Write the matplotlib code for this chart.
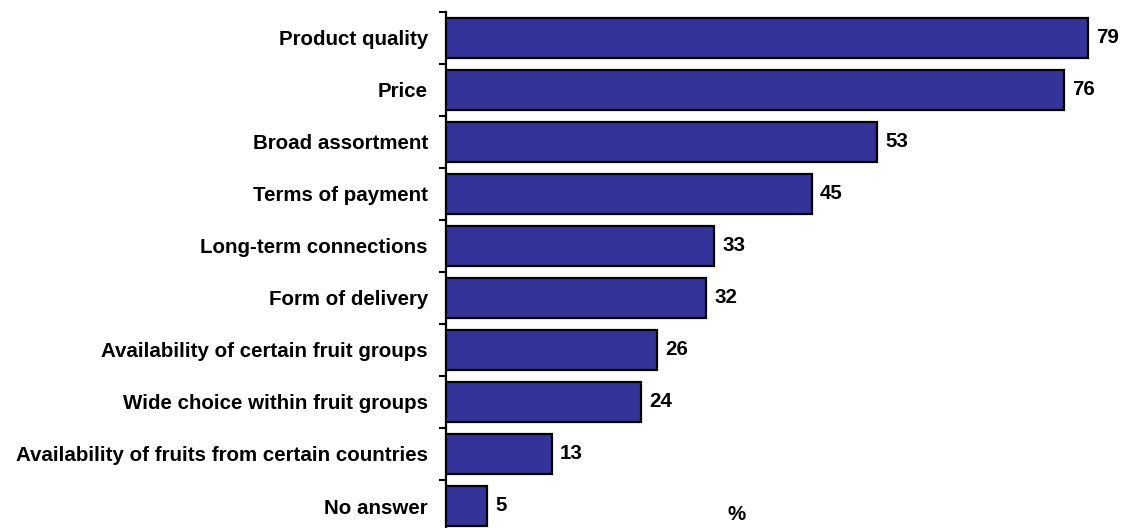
import matplotlib
matplotlib.use("Agg")
import matplotlib.pyplot as plt
import numpy as np

categories = ["Product quality", "Price", "Broad assortment", "Terms of payment",
              "Long-term connections", "Form of delivery",
              "Availability of certain fruit groups", "Wide choice within fruit groups",
              "Availability of fruits from certain countries", "No answer"]
values = [79, 76, 53, 45, 33, 32, 26, 24, 13, 5]

plt.rcParams['font.family'] = ['Liberation Sans', 'DejaVu Sans']

W, H = 1123, 528
fig = plt.figure(figsize=(W / 100, H / 100), dpi=100)
x0, ytop, ybot = 446, 12, 532
ax = fig.add_axes([x0 / W, (H - ybot) / H, (W - x0) / W, (ybot - ytop) / H])

n = len(categories)
pos = np.arange(n)
ax.barh(pos, values, height=0.78, color="#333399", edgecolor="black", linewidth=1.6, zorder=3)
ax.set_ylim(n - 0.5, -0.5)
ax.set_xlim(0, (W - x0) / 8.13)

ax.set_yticks(pos)
ax.set_yticklabels(categories, fontsize=14.8, fontweight="bold")
ax.tick_params(axis="y", which="major", length=0, pad=13)
ax.set_yticks(np.arange(n + 1) - 0.5, minor=True)
ax.tick_params(axis="y", which="minor", length=5, width=1.5, direction="out", color="black")
ax.set_xticks([])

for s in ["top", "right", "bottom"]:
    ax.spines[s].set_visible(False)
ax.spines["left"].set_linewidth(1.6)

for p, v in zip(pos, values):
    ax.annotate(str(v), (v, p), xytext=(6, 0), textcoords="offset points",
                va="center", ha="left", fontsize=14.8, fontweight="bold")

fig.text(737 / W, 1 - 514 / H, "%", fontsize=14.8, fontweight="bold", ha="center", va="center")

fig.savefig("out.png", dpi=100)
